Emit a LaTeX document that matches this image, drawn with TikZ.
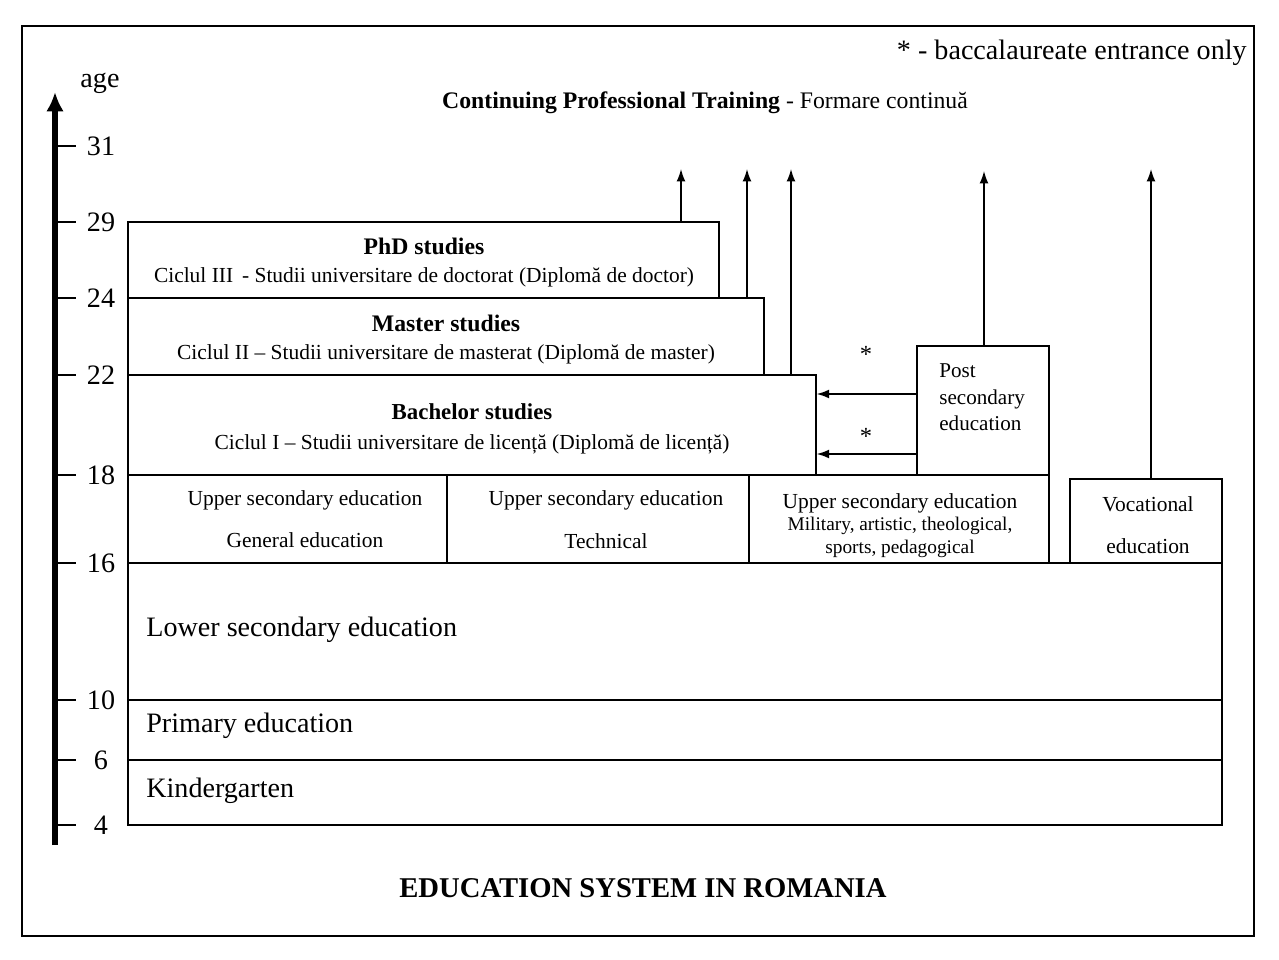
\documentclass[tikz,border=0pt]{standalone}
\usepackage{fontspec}
\setmainfont{Liberation Serif}
\usetikzlibrary{arrows.meta,positioning,fit}
\tikzset{
    every node/.style={font=\fontsize{12.2}{14}\selectfont, inner sep=0pt},
    stage/.style={draw, line width=0.8pt, inner sep=0pt},
    frame/.style={line width=1.1pt},
    ageaxis/.style={line width=3.2pt, -{Latex[length=11pt,width=10pt]}},
    flow/.style={line width=0.8pt, -{Latex[length=7pt,width=5pt]}},
    big/.style={font=\fontsize{16}{19}\selectfont},
    head/.style={font=\fontsize{13.5}{16}\selectfont\bfseries}
}

\begin{document}
\begin{tikzpicture}[x=0.2mm,y=-0.2mm]
    \useasboundingbox (0,0) rectangle (1279,960);

    % Outer frame
    \draw[frame] (22,26) rectangle (1254,936);

    % Age axis
    \coordinate (axbot) at (55,845);
    \coordinate (axtop) at (55,92);
    \draw[ageaxis] (axbot) -- (axtop);
    \node[big] (agelbl) at (100,83) {age};
    \foreach \a/\y in {31/146,29/222,24/298,22/375,18/475,16/563,10/700,6/760,4/825}{
        \draw[line width=0.8pt] (57,\y) -- (76,\y);
        \node[big] (tick\a) at (101,\y) {\a};
    }

    % Legend and continuing training
    \node[big, anchor=east] (legend) at (1247,53) {* - baccalaureate entrance only};
    \node[font=\fontsize{13.5}{16}\selectfont] (cpt) at (705,103)
        {\textbf{Continuing Professional Training} - Formare continuă};

    % Higher education
    \node[stage, fit={(128,222) (719,298)}] (phd) {};
    \node[head] (phd1) at (424,246) {PhD studies};
    \node (phd2) at (424,277) {Ciclul III\, - Studii universitare de doctorat (Diplomă de doctor)};
    \node[stage, fit={(128,298) (764,375)}] (master) {};
    \node[head] (master1) at (446,323) {Master studies};
    \node (master2) at (446,354) {Ciclul II -- Studii universitare de masterat (Diplomă de master)};
    \node[stage, fit={(128,375) (816,475)}] (bach) {};
    \node[head, font=\fontsize{13}{16}\selectfont\bfseries] (bach1) at (472,412) {Bachelor studies};
    \node (bach2) at (472,444) {Ciclul I -- Studii universitare de licență (Diplomă de licență)};

    % Upper secondary and post secondary
    \node[stage, fit={(128,475) (447,563)}] (gen) {};
    \node (gen1) at (305,500) {Upper secondary education};
    \node (gen2) at (305,540) {General education};
    \node[stage, fit={(447,475) (749,563)}] (tech) {};
    \node (tech1) at (606,500) {Upper secondary education};
    \node (tech2) at (606,541) {Technical};
    \node[stage, fit={(749,475) (1049,563)}] (mil) {};
    \node (mil1) at (900,503) {Upper secondary education};
    \node[font=\fontsize{11}{13}\selectfont] (mil2) at (900,526) {Military, artistic, theological,};
    \node[font=\fontsize{11}{13}\selectfont] (mil3) at (900,549) {sports, pedagogical};
    \node[stage, fit={(917,346) (1049,475)}] (post) {};
    \node[anchor=north west, align=left, font=\fontsize{12}{15.3}\selectfont] (posttxt)
        at (939,363) {Post\\ secondary\\ education};
    \node[stage, fit={(1070,479) (1222,563)}] (voc) {};
    \node (voc1) at (1148,504) {Vocational};
    \node (voc2) at (1148,546) {education};

    % Compulsory levels
    \node[stage, fit={(128,563) (1222,700)}] (lower) {};
    \node[big, anchor=west] (lowertxt) at (146,630) {Lower secondary education};
    \node[stage, fit={(128,700) (1222,760)}] (prim) {};
    \node[big, anchor=west] (primtxt) at (146,726) {Primary education};
    \node[stage, fit={(128,760) (1222,825)}] (kind) {};
    \node[big, anchor=west] (kindtxt) at (146,791) {Kindergarten};

    % Arrows to continuing training
    \coordinate (up1) at (681,169);
    \coordinate (up2) at (747,169);
    \coordinate (up3) at (791,169);
    \coordinate (up4) at (984,171);
    \coordinate (up5) at (1151,169);
    \draw[flow] (phd.north -| up1) -- (up1);
    \draw[flow] (master.north -| up2) -- (up2);
    \draw[flow] (bach.north -| up3) -- (up3);
    \draw[flow] (post.north -| up4) -- (up4);
    \draw[flow] (voc.north -| up5) -- (up5);

    % Baccalaureate entrance
    \coordinate (bac1) at (0,394);
    \coordinate (bac2) at (0,454);
    \draw[flow] (post.west |- bac1) -- (bach.east |- bac1);
    \draw[flow] (post.west |- bac2) -- (bach.east |- bac2);
    \node[font=\fontsize{14}{16}\selectfont] (star1) at (866,354) {*};
    \node[font=\fontsize{14}{16}\selectfont] (star2) at (866,436) {*};

    % Title
    \node[font=\fontsize{16.3}{19}\selectfont\bfseries] (title) at (643,888)
        {EDUCATION SYSTEM IN ROMANIA};
\end{tikzpicture}
\end{document}
